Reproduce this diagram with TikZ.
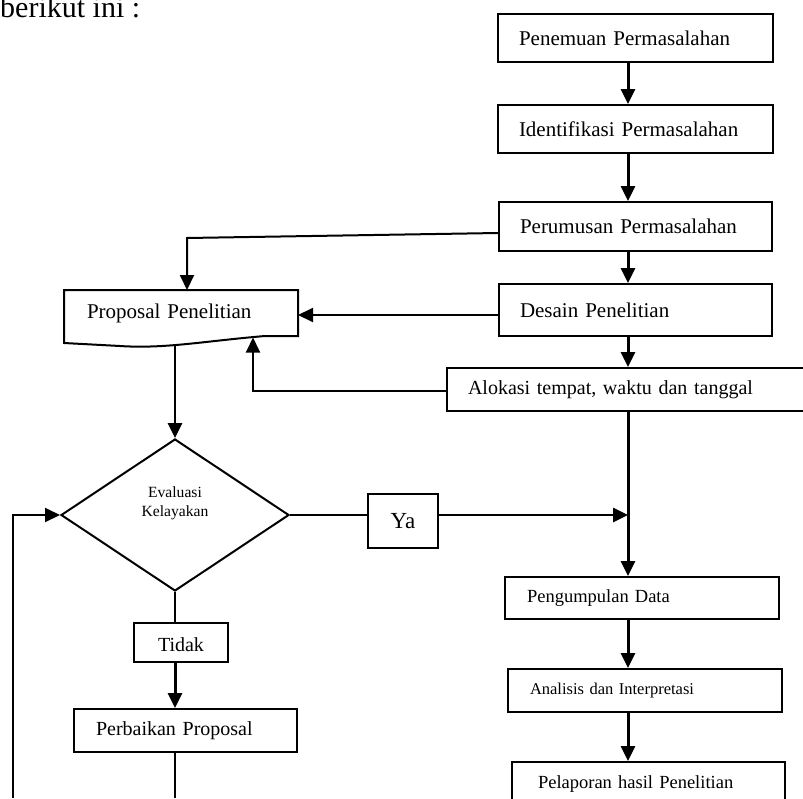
\documentclass[tikz,border=0pt]{standalone}
\usepackage{fontspec}
\setmainfont{Liberation Serif}
\usetikzlibrary{arrows.meta,shapes.geometric}
\newcommand{\fs}[1]{\fontsize{#1}{#1}\selectfont}
\begin{document}
\begin{tikzpicture}[x=1pt, y=-1pt, line join=miter, >={Triangle[length=15pt,width=14pt]},
	kotak/.style={draw, line width=2pt, inner xsep=21pt, inner ysep=0pt, align=left, font=\fs{21}},
	panah/.style={->, line width=3pt},
	garis/.style={line width=2pt}]
	\useasboundingbox (0,0) rectangle (803,798);
	\clip (0,0) rectangle (803,798);
	\coordinate (kol) at (628,0);
	\coordinate (dasar) at (0,798);
	\node[anchor=base west, inner sep=0pt, font=\fs{30}] (judul) at (0,17) {berikut ini :};
	% kolom kanan
	\node[kotak, text width=233pt, minimum height=48pt] (pen) at (635.5,38) {Penemuan Permasalahan};
	\node[kotak, text width=233pt, minimum height=48pt] (ide) at (635.5,129) {Identifikasi Permasalahan};
	\node[kotak, text width=231pt, minimum height=49pt] (per) at (635.5,226.5) {Perumusan Permasalahan};
	\node[kotak, text width=231pt, minimum height=52pt] (des) at (635.5,310) {Desain Penelitian};
	\node[kotak, text width=323pt, minimum height=43pt, font=\fs{20}] (alo) at (629.5,389.5) {\makebox[322pt][s]{Alokasi tempat, waktu dan tanggal}};
	\node[kotak, text width=230pt, minimum height=42pt, inner xsep=22pt, font=\fs{18.5}] (pg) at (642,598) {Pengumpulan Data};
	\node[kotak, text width=230pt, minimum height=43pt, inner xsep=22pt, font=\fs{16.5}] (ana) at (645,690.5) {Analisis dan Interpretasi};
	\node[kotak, text width=221pt, minimum height=44pt, inner xsep=26pt, font=\fs{18.5}] (pel) at (648.5,784) {Pelaporan hasil Penelitian};
	\foreach \a/\b in {pen/ide, ide/per, per/des, des/alo, alo/pg, pg/ana, ana/pel}
		\draw[panah] (\a.south -| kol) -- (\b.north -| kol);
	% kolom kiri
	\node[kotak, draw=none, text width=188pt, minimum height=44pt, inner xsep=22pt] (prop) at (181,313) {Proposal Penelitian};
	\draw[garis] (prop.north west) -- (prop.north east) -- (prop.south east) -- (265,336)
		.. controls (205,341) and (165,349) .. (120,346) -- (prop.west |- 0,343) -- cycle;
	\coordinate (gel1) at (175,345.5);
	\coordinate (gel2) at (253,337.5);
	\node[diamond, draw, line width=2pt, minimum width=228pt, minimum height=152pt, inner sep=0pt] (eval) at (175,515) {};
	\node[align=center, font=\fs{15.6}, inner sep=0pt] (evalteks) at (175,503) {Evaluasi\\[3pt]Kelayakan};
	\node[kotak, inner xsep=0pt, minimum width=70pt, minimum height=54pt, font=\fs{23}] (ya) at (403,521) {Ya};
	\node[kotak, inner xsep=0pt, minimum width=94pt, minimum height=39pt, font=\fs{20}, text depth=0pt] (tdk) at (181,642.5) {\raisebox{-5pt}{Tidak}};
	\node[kotak, text width=179pt, minimum height=43pt, inner xsep=22pt, font=\fs{20}] (perb) at (185.5,730.5) {\raisebox{-3pt}{\makebox[169pt][s]{Perbaikan Proposal}}};
	\coordinate (kiri) at (13,798);
	\draw[garis,->] ([yshift=-6.5pt]per.west) -- ([xshift=6pt,yshift=52pt]prop.north) -- ([xshift=6pt]prop.north);
	\draw[garis,->] ([yshift=-5pt]des.west) -- ([yshift=-5pt]des.west -| prop.east);
	\draw[garis,->] ([yshift=-1.5pt]alo.west) -| (gel2);
	\draw[panah, line width=2.6pt] (gel1) -- (eval.north);
	\draw[garis] (eval.east) -- (ya.west |- eval.east);
	\draw[panah, line width=2.6pt] (ya.east |- eval.east) -- (kol |- eval.east);
	\draw[garis] (eval.south) -- (eval.south |- tdk.north);
	\draw[panah] (eval.south |- tdk.south) -- (eval.south |- perb.north);
	\draw[garis] (eval.south |- perb.south) -- (eval.south |- dasar);
	\draw[garis,->] (kiri) |- (eval.west);
\end{tikzpicture}
\end{document}
